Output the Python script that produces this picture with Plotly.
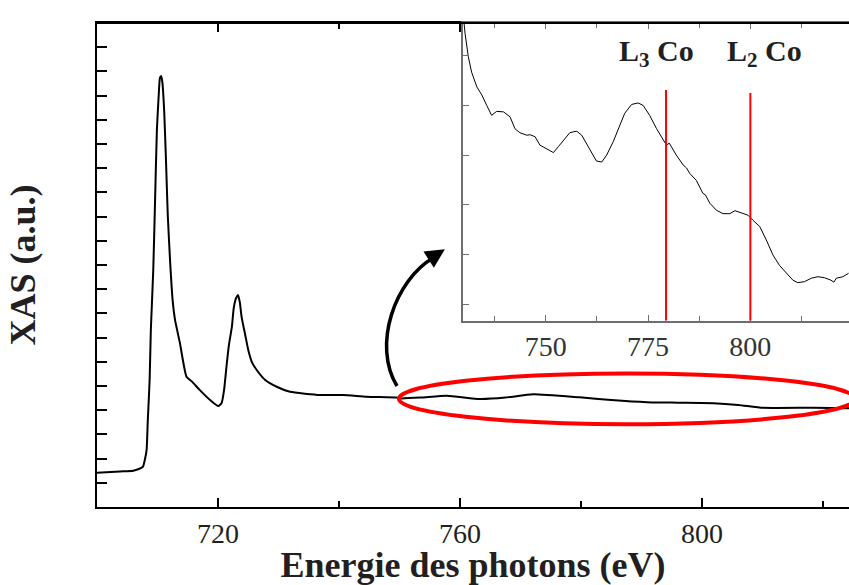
import plotly.graph_objects as go

# ---- main spectrum (photon energy in eV, XAS in arbitrary units) ----
main_energy = [700.0, 703.8, 706.0, 707.1, 707.6, 707.9, 708.2, 708.4, 708.7, 708.9,
               709.3, 709.6, 709.9, 710.2, 710.4, 710.6, 710.8, 711.1, 711.4, 711.7,
               712.1, 712.5, 712.9, 713.7, 714.8, 715.7, 717.0, 718.7, 720.05, 720.6,
               721.0, 721.4, 721.8, 722.3, 722.6, 723.0, 723.3, 723.6, 723.9, 724.5,
               725.0, 725.6, 726.4, 727.8, 729.7, 731.9, 736.9, 740.7, 744.6, 749.8,
               750.1, 753.5, 757.8, 763.3, 767.5, 772.1, 779.8, 785.0, 790.9, 796.0,
               801.9, 806.0, 810.1, 818.4, 824.3]
main_xas = [1.42, 1.47, 1.50, 1.59, 1.67, 1.94, 2.36, 3.60, 5.25, 7.31,
            9.79, 12.69, 15.58, 17.02, 17.73, 17.81, 17.56, 16.40, 14.34, 12.07,
            10.08, 8.55, 7.73, 6.78, 5.38, 5.18, 4.83, 4.42, 4.17, 4.30,
            4.83, 5.80, 6.69, 7.45, 8.22, 8.64, 8.76, 8.47, 7.86, 7.11,
            6.49, 5.99, 5.66, 5.25, 4.97, 4.76, 4.63, 4.63, 4.56, 4.52,
            4.49, 4.52, 4.60, 4.46, 4.52, 4.66, 4.53, 4.42, 4.33, 4.31,
            4.29, 4.22, 4.10, 4.10, 4.08]

# ---- inset: zoom on the Co L-edge region ----
inset_energy = [729.75, 730.3, 731.1, 731.9, 733.2, 734.4, 735.6, 736.3, 736.8, 738.0,
                739.7, 741.3, 742.5, 743.7, 744.5, 745.4, 746.2, 747.4, 748.6, 750.2,
                751.9, 753.1, 754.7, 755.9, 756.8, 757.6, 758.8, 760.0, 761.2, 762.4,
                763.7, 764.9, 766.5, 767.7, 769.3, 771.0, 772.6, 773.8, 775.4, 777.1,
                778.7, 779.5, 780.2, 780.7, 781.9, 783.6, 784.4, 785.2, 786.8, 788.4,
                789.0, 790.1, 791.7, 793.3, 795.0, 796.2, 797.8, 799.4, 800.6, 802.3,
                803.9, 805.5, 807.1, 808.8, 810.4, 811.6, 813.2, 814.9, 816.5, 818.1,
                819.7, 820.4, 821.0, 822.6, 824.0]
inset_xas = [6.92, 6.45, 5.98, 5.67, 5.37, 5.21, 5.00, 4.90, 4.80, 4.88,
             4.87, 4.77, 4.53, 4.45, 4.43, 4.40, 4.41, 4.37, 4.20, 4.13,
             4.05, 4.17, 4.33, 4.45, 4.47, 4.48, 4.40, 4.23, 4.03, 3.88,
             3.86, 4.00, 4.27, 4.53, 4.84, 5.02, 5.05, 5.00, 4.80, 4.53,
             4.30, 4.20, 4.24, 4.17, 4.00, 3.80, 3.74, 3.63, 3.49, 3.23,
             3.20, 3.03, 2.89, 2.82, 2.82, 2.88, 2.84, 2.79, 2.69, 2.56,
             2.29, 1.99, 1.78, 1.62, 1.48, 1.43, 1.45, 1.52, 1.55, 1.53,
             1.48, 1.44, 1.52, 1.55, 1.62]

edge_energy = [779.4, 800.0]
edge_top = [5.31, 5.25]
edge_labels = ["<b>L<sub>3</sub> Co</b>", "<b>L<sub>2</sub> Co</b>"]
edge_label_x = [777.1, 803.5]

main_ticks = [720, 760, 800]
main_minor = [740, 780, 820]
inset_ticks = [750, 775, 800]
inset_minor = [737.5, 762.5, 787.5, 812.5]

SERIF = "Liberation Serif"
INK = "#231f20"
GREY = "#6d6e71"

fig = go.Figure()
fig.add_trace(go.Scatter(x=main_energy, y=main_xas, mode="lines",
                         line=dict(color="black", width=2, shape="spline", smoothing=0.5),
                         xaxis="x", yaxis="y", showlegend=False, hoverinfo="skip"))
fig.add_trace(go.Scatter(x=inset_energy, y=inset_xas, mode="lines",
                         line=dict(color="black", width=1),
                         xaxis="x2", yaxis="y2", showlegend=False, hoverinfo="skip"))

y2_range = [0.664, 6.66]

shapes = []
for e, t in zip(edge_energy, edge_top):
    shapes.append(dict(type="line", xref="x2", yref="y2", x0=e, x1=e, y0=y2_range[0], y1=t,
                       line=dict(color="#ff0000", width=2), layer="above"))
# ellipse around the magnified region
shapes.append(dict(type="circle", xref="x", yref="y", x0=749.9, x1=825.3, y0=3.42, y1=5.52,
                   line=dict(color="#ff0000", width=4), layer="above"))
# curved arrow body
shapes.append(dict(type="path", xref="x", yref="y",
                   path="M 749.59,5.0 C 745.45,6.69 749.26,9.38 755.6,10.3",
                   line=dict(color="black", width=3.5), layer="above"))
# black top frame line over the inset
shapes.append(dict(type="line", xref="paper", yref="paper", x0=0, x1=1, y0=1, y1=1,
                   line=dict(color="black", width=2), layer="above"))

annotations = [dict(x=757.5, y=10.65, xref="x", yref="y", ax=-14, ay=9, text="",
                    showarrow=True, arrowhead=2, arrowsize=1.1, arrowwidth=3.5,
                    arrowcolor="black", standoff=0)]
for lx, txt in zip(edge_label_x, edge_labels):
    annotations.append(dict(x=lx, y=6.05, xref="x2", yref="y2", text=txt, showarrow=False,
                            font=dict(family=SERIF, size=30, color=INK),
                            xanchor="center", yanchor="middle"))

fig.update_layout(
    width=849, height=585,
    margin=dict(l=97, r=0, t=23, b=78, autoexpand=False),
    paper_bgcolor="white", plot_bgcolor="white",
    shapes=shapes, annotations=annotations,
    xaxis=dict(range=[700, 824.3], showgrid=False, zeroline=False, automargin=False,
               showline=True, linecolor="black", linewidth=2, mirror="ticks",
               ticks="inside", ticklen=9, tickwidth=1.5, tickcolor="black",
               tickvals=main_ticks, ticktext=[str(v) for v in main_ticks],
               minor=dict(tickvals=main_minor, ticks="inside", ticklen=6,
                          tickwidth=1.5, tickcolor="black", showgrid=False),
               tickfont=dict(family=SERIF, size=28, color=INK),
               title=dict(text="<b>Energie des photons (eV)</b>",
                          font=dict(family=SERIF, size=36, color=INK), standoff=3)),
    yaxis=dict(range=[0, 20], dtick=1, showgrid=False, zeroline=False, automargin=False,
               showline=True, linecolor="black", linewidth=2, mirror=False,
               ticks="inside", ticklen=10, tickwidth=1.5, tickcolor="black",
               showticklabels=False,
               title=dict(text="<b>XAS (a.u.)</b>",
                          font=dict(family=SERIF, size=36, color=INK), standoff=48)),
    xaxis2=dict(domain=[0.4867, 1], anchor="y2", range=[729.8, 824.1], automargin=False,
                showgrid=False, zeroline=False,
                showline=True, linecolor=GREY, linewidth=1.5, mirror="ticks",
                ticks="inside", ticklen=6, tickwidth=1, tickcolor=GREY,
                tickvals=inset_ticks, ticktext=[str(v) for v in inset_ticks],
                minor=dict(tickvals=inset_minor, ticks="inside", ticklen=5,
                           tickwidth=1, tickcolor=GREY, showgrid=False),
                tickfont=dict(family=SERIF, size=28, color="#333333")),
    yaxis2=dict(domain=[0.3849, 1], anchor="x2", range=y2_range, dtick=1, automargin=False,
                showgrid=False, zeroline=False,
                showline=True, linecolor=GREY, linewidth=1.5, mirror=False,
                ticks="inside", ticklen=6, tickwidth=1, tickcolor=GREY,
                showticklabels=False),
)

fig.write_html("out.html", config={"displayModeBar": False},
               post_script="document.body.style.margin='0';document.body.style.overflow='hidden';")
